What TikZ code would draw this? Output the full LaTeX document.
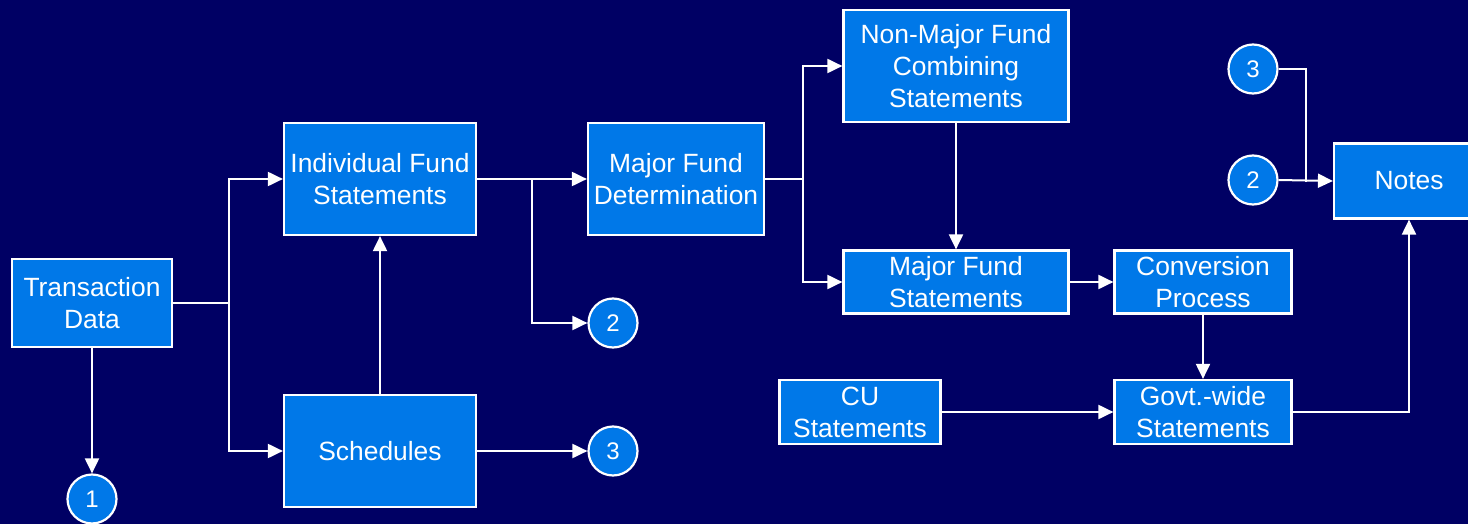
\documentclass[tikz,border=0pt]{standalone}
\usepackage{fontspec}
\setmainfont{Liberation Sans}
\usetikzlibrary{arrows.meta}
\definecolor{navy}{RGB}{0,0,100}
\definecolor{boxblue}{RGB}{0,120,232}
\tikzset{
  box/.style={draw=white, line width=2.2pt, fill=boxblue, text=white, align=center,
    inner sep=0pt, font=\fontsize{26.4}{32}\selectfont},
  conn/.style={draw=white, line width=2.2pt, fill=boxblue, text=white, circle,
    minimum size=49pt, inner sep=0pt, font=\fontsize{24}{28}\selectfont},
  link/.style={white, line width=2pt},
  arr/.style={link, -{Triangle[length=15pt,width=14pt]}}
}
\begin{document}
\begin{tikzpicture}[x=1pt,y=-1pt]
  \fill[navy] (0,0) rectangle (1468,524);
  \useasboundingbox (0,0) rectangle (1468,524);

  % process boxes
  \node[box, minimum width=160pt, minimum height=88pt] (td) at (92,303) {Transaction\\Data};
  \node[box, minimum width=192pt, minimum height=112pt] (ifs) at (380,179) {Individual Fund\\Statements};
  \node[box, minimum width=192pt, minimum height=112pt] (sch) at (380,451) {Schedules};
  \node[box, minimum width=176pt, minimum height=112pt] (mfd) at (676,179) {Major Fund\\Determination};
  \node[box, minimum width=225pt, minimum height=112pt] (nmf) at (956,66) {Non-Major Fund\\Combining\\Statements};
  \node[box, minimum width=225pt, minimum height=63pt] (mfs) at (956,282) {Major Fund\\Statements};
  \node[box, minimum width=177pt, minimum height=63pt] (cp) at (1203,282) {Conversion\\Process};
  \node[box, minimum width=161pt, minimum height=64pt] (cu) at (860,412) {CU\\Statements};
  \node[box, minimum width=177pt, minimum height=64pt] (gw) at (1203,412) {Govt.-wide\\Statements};
  \node[box, minimum width=150pt, minimum height=75pt] (notes) at (1409,181) {Notes};

  % off-page connectors
  \node[conn] (c1) at (92,499) {1};
  \node[conn] (c2a) at (613,323) {2};
  \node[conn] (c3a) at (613,451) {3};
  \node[conn] (c3b) at (1253,69) {3};
  \node[conn] (c2b) at (1253,180) {2};

  % junction points
  \coordinate (j1) at (229,303);
  \coordinate (j2) at (532,179);
  \coordinate (j3) at (803,179);
  \coordinate (j4) at (1306,182);

  % flows
  \draw[link] (td.east) -- (j1);
  \draw[arr] (j1) |- (ifs.west);
  \draw[arr] (j1) |- (sch.west);
  \draw[arr] (td.south) -- (c1.north);
  \draw[arr] (sch.north) -- (ifs.south);
  \draw[arr] (sch.east) -- (c3a.west);
  \draw[arr] (ifs.east) -- (mfd.west);
  \draw[arr] (j2) |- (c2a.west);
  \draw[link] (mfd.east) -- (j3);
  \draw[arr] (j3) |- (nmf.west);
  \draw[arr] (j3) |- (mfs.west);
  \draw[arr] (nmf.south) -- (mfs.north);
  \draw[arr] (mfs.east) -- (cp.west);
  \draw[arr] (cp.south) -- (gw.north);
  \draw[arr] (cu.east) -- (gw.west);
  \draw[arr] (gw.east) -| (notes.south);
  \draw[link] (c3b.east) -| (j4);
  \draw[arr] (c2b.east) -- (notes.west);
\end{tikzpicture}
\end{document}
